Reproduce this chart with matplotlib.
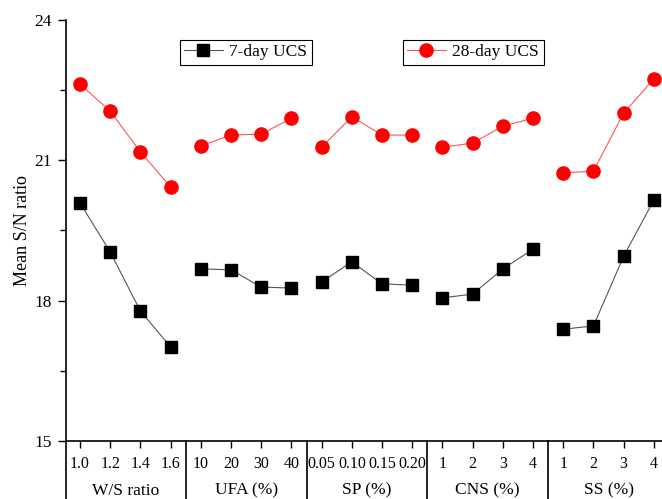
import matplotlib.pyplot as plt
from matplotlib.ticker import MultipleLocator
import matplotlib.transforms as mtransforms

plt.rcParams['font.family'] = ['Liberation Serif', 'DejaVu Serif']

# factor groups and their levels
groups = ['W/S ratio', 'UFA (%)', 'SP (%)', 'CNS (%)', 'SS (%)']
levels = [
    ['1.0', '1.2', '1.4', '1.6'],
    ['10', '20', '30', '40'],
    ['0.05', '0.10', '0.15', '0.20'],
    ['1', '2', '3', '4'],
    ['1', '2', '3', '4'],
]

# mean S/N ratios per level
sn_7day = [
    [20.09, 19.04, 17.78, 17.01],
    [18.68, 18.66, 18.29, 18.27],
    [18.40, 18.83, 18.36, 18.33],
    [18.06, 18.14, 18.68, 19.10],
    [17.39, 17.46, 18.95, 20.15],
]
sn_28day = [
    [22.63, 22.05, 21.18, 20.43],
    [21.31, 21.54, 21.56, 21.90],
    [21.28, 21.93, 21.54, 21.54],
    [21.28, 21.37, 21.73, 21.90],
    [20.73, 20.77, 22.01, 22.74],
]


def main():
    fig = plt.figure(figsize=(6.62, 4.99), dpi=100)
    ax = fig.add_axes([66 / 662, 1 - 441 / 499, 1 - 66 / 662, (441 - 20) / 499])

    h7 = h28 = None
    pos = 1
    ticks, labels = [], []
    for g, lv in enumerate(levels):
        xs = list(range(pos, pos + len(lv)))
        h28, = ax.plot(xs, sn_28day[g], '-o', color='#ff5555', mfc='red', mec='red',
                       lw=0.8, ms=9.5)
        h7, = ax.plot(xs, sn_7day[g], '-s', color='#555555', mfc='black', mec='black',
                      lw=0.8, ms=8.5)
        ticks += xs
        labels += lv
        pos += len(lv)

    ax.set_xlim(0.536, 20.27)
    ax.set_ylim(15, 24)
    ax.set_xticks(ticks)
    ax.set_xticklabels(labels)
    ax.yaxis.set_major_locator(MultipleLocator(3))
    ax.yaxis.set_minor_locator(MultipleLocator(1.5))
    ax.tick_params(axis='y', direction='out', length=6, width=1, labelsize=12.5, pad=4)
    ax.tick_params(axis='y', which='minor', direction='out', length=4, width=1)
    ax.tick_params(axis='x', direction='out', length=5, width=1, labelsize=11.5, pad=6)
    for s in ['top', 'right']:
        ax.spines[s].set_visible(False)
    for s in ['left', 'bottom']:
        ax.spines[s].set_linewidth(1.2)
    ax.set_ylabel('Mean S/N ratio', fontsize=13)
    ax.yaxis.set_label_coords(-35 / 596, 0.5)

    # group separators and names below the axis
    trans = mtransforms.blended_transform_factory(ax.transData, ax.transAxes)
    n = 0
    for g, lv in enumerate(levels):
        left = n + 0.5
        if g == 0:
            left = 0.536
        ax.plot([left, left], [0, -0.2], transform=trans, color='black', lw=1.2,
                clip_on=False)
        ax.text(n + 0.5 + len(lv) / 2, -0.118, groups[g], transform=trans,
                ha='center', va='center', fontsize=12.5)
        n += len(lv)

    leg_kw = dict(loc='upper left', bbox_transform=ax.transAxes, fancybox=False,
                  edgecolor='black', fontsize=12.5, handlelength=2.2, borderpad=0.25,
                  handletextpad=0.4, framealpha=1, borderaxespad=0)
    leg1 = ax.legend([h7], ['7-day UCS'],
                     bbox_to_anchor=((180 - 66) / 596, 1 - 20 / 421), **leg_kw)
    leg1.get_frame().set_linewidth(0.8)
    ax.add_artist(leg1)
    leg2 = ax.legend([h28], ['28-day UCS'],
                     bbox_to_anchor=((403 - 66) / 596, 1 - 20 / 421), **leg_kw)
    leg2.get_frame().set_linewidth(0.8)

    fig.savefig('out.png', dpi=100)


if __name__ == '__main__':
    main()
